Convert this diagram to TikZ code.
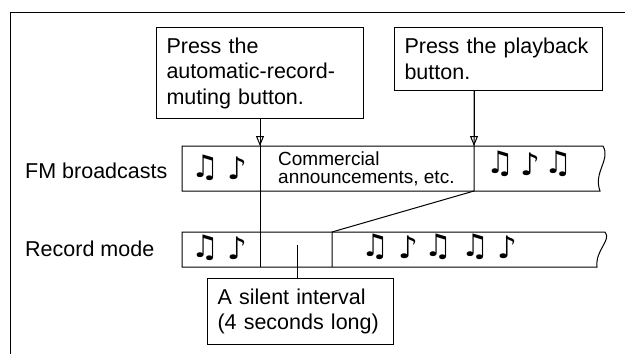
\documentclass[tikz,border=0pt]{standalone}
\usepackage{fontspec}
\setmainfont{Liberation Sans}
\newfontfamily\notefont{DejaVu Sans}
\usetikzlibrary{positioning,arrows.meta}

\begin{document}
\begin{tikzpicture}[x=1pt,y=-1pt,
    every node/.style={font=\fontsize{21.5}{25.5}\selectfont},
    callout/.style={draw,line width=1pt,inner sep=10pt,align=left,anchor=north west},
    rowlabel/.style={anchor=base west,inner sep=0pt},
    tape/.style={draw,line width=1pt},
    cut/.style={line width=1pt},
    push/.style={line width=1pt,-{Triangle[open,length=10pt,width=8pt]}},
    note/.style={font=\notefont\fontsize{31}{31}\selectfont,inner sep=0pt},
  ]
  \useasboundingbox (0,0) rectangle (625,354);
  \draw[line width=0.8pt] (625,12) -- (10,12) -- (10,354);

  \draw[tape] (182,146) -- (603,146) .. controls (611,160) and (593,172) .. (600,191) -- (182,191) -- cycle;
  \draw[tape] (182,232) -- (605,232) .. controls (612,240) and (595,250) .. (597,267) -- (182,267) -- cycle;

  \coordinate (fmA) at (260,146);
  \coordinate (fmB) at (474,146);
  \coordinate (fmBb) at (474,191);
  \coordinate (recA) at (260,267);
  \coordinate (recB) at (332,232);
  \coordinate (recBb) at (332,267);
  \coordinate (gap) at (297,245);

  \node[callout,text width=187pt,minimum height=91pt] (mute) at (156,27) {Press the\\automatic-record-\\muting button.};
  \node[callout,text width=188pt,minimum height=63pt] (play) at (394,27) {Press the playback\\button.};
  \node[callout,text width=166pt,minimum height=57pt] (silent) at (207,278) {A silent interval\\(4 seconds long)};

  \node[rowlabel] (fmlabel) at (25,178) {FM broadcasts};
  \node[rowlabel] (reclabel) at (25,256) {Record mode};
  \node[anchor=north west,inner sep=0pt,align=left,font=\fontsize{19}{17.5}\selectfont] (ads) at (278,152) {Commercial\\announcements, etc.};

  \draw[cut] (mute.south) -- (recA);
  \draw[push] (mute.south) -- (fmA);
  \draw[cut] (play.south -| fmB) -- (fmBb) -- (recB) -- (recBb);
  \draw[push] (play.south -| fmB) -- (fmB);
  \draw[cut] (gap) -- (silent.north -| gap);

  \foreach \x/\g [count=\i] in {205/♫,237/♪} {
    \node[note] (fmn\i) at (\x,168) {\g};
  }
  \foreach \x/\g [count=\i] in {500/♫,530/♪,558/♫} {
    \node[note] (fmm\i) at (\x,164) {\g};
  }
  \foreach \x/\g [count=\i] in {205/♫,237/♪} {
    \node[note] (recn\i) at (\x,248) {\g};
  }
  \foreach \x/\g [count=\i] in {375/♫,408/♪,438/♫,475/♫,507/♪} {
    \node[note] (recm\i) at (\x,247) {\g};
  }
\end{tikzpicture}
\end{document}
